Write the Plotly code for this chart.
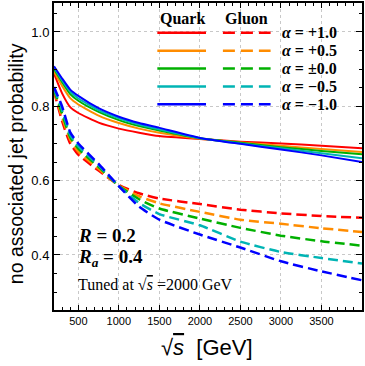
import plotly.graph_objects as go

# sqrt(s) in GeV
sqrt_s = [200, 300, 400, 500, 750, 1000, 1250, 1500, 2000, 2500, 3000, 3500, 4000]

alpha_labels = ["+1.0", "+0.5", "\u00b10.0", "\u22120.5", "\u22121.0"]
colors = ["#ff0000", "#ff8c00", "#00b000", "#00b4b4", "#0000ff"]

# quark (solid) curves, one per alpha
quark_p10 = [0.888, 0.835, 0.798, 0.782, 0.756, 0.740, 0.729, 0.720, 0.712, 0.705, 0.700, 0.694, 0.687]
quark_p05 = [0.893, 0.855, 0.822, 0.805, 0.775, 0.755, 0.740, 0.729, 0.713, 0.703, 0.694, 0.685, 0.677]
quark_p00 = [0.900, 0.865, 0.833, 0.815, 0.785, 0.763, 0.747, 0.735, 0.714, 0.702, 0.690, 0.680, 0.671]
quark_m05 = [0.905, 0.870, 0.840, 0.821, 0.790, 0.768, 0.751, 0.738, 0.714, 0.700, 0.687, 0.674, 0.660]
quark_m10 = [0.908, 0.875, 0.845, 0.828, 0.795, 0.772, 0.755, 0.742, 0.715, 0.699, 0.684, 0.668, 0.650]

# gluon (dashed) curves, one per alpha
gluon_p10 = [0.840, 0.760, 0.700, 0.670, 0.627, 0.588, 0.566, 0.552, 0.537, 0.522, 0.512, 0.505, 0.500]
gluon_p05 = [0.843, 0.770, 0.710, 0.678, 0.632, 0.587, 0.558, 0.539, 0.516, 0.495, 0.484, 0.472, 0.462]
gluon_p00 = [0.845, 0.780, 0.717, 0.686, 0.637, 0.586, 0.550, 0.525, 0.498, 0.473, 0.452, 0.437, 0.425]
gluon_m05 = [0.848, 0.790, 0.723, 0.693, 0.641, 0.585, 0.540, 0.510, 0.480, 0.436, 0.408, 0.392, 0.377]
gluon_m10 = [0.852, 0.800, 0.730, 0.700, 0.645, 0.585, 0.530, 0.495, 0.455, 0.420, 0.383, 0.356, 0.332]

quark = [quark_p10, quark_p05, quark_p00, quark_m05, quark_m10]
gluon = [gluon_p10, gluon_p05, gluon_p00, gluon_m05, gluon_m10]

fig = go.Figure()
for i in range(5):
    fig.add_trace(go.Scatter(x=sqrt_s, y=quark[i], mode="lines",
                             line=dict(color=colors[i], width=2, shape="spline", smoothing=0.5),
                             showlegend=False))
for i in range(5):
    fig.add_trace(go.Scatter(x=sqrt_s, y=gluon[i], mode="lines",
                             line=dict(color=colors[i], width=2.5, dash="10px,5px", shape="spline", smoothing=0.5),
                             showlegend=False))

# pixel helpers for the plot area (l=54, t=1, w=310, h=309)
def px(x): return (x - 54) / 310
def py(y): return (310 - y) / 309

serif = "Liberation Serif"
sans = "Liberation Sans"

def note(x, y, text, size, family, xanchor="center", angle=0):
    return dict(xref="paper", yref="paper", x=px(x), y=py(y), text=text, showarrow=False,
                xanchor=xanchor, yanchor="middle", textangle=angle,
                font=dict(family=family, size=size, color="black"))

# hand-made legend
ann = []
shapes = []
rows = [31, 49, 67, 85, 103]
for i, yy in enumerate(rows):
    shapes.append(dict(type="line", xref="paper", yref="paper", x0=px(158), x1=px(207), y0=py(yy), y1=py(yy),
                       line=dict(color=colors[i], width=2.5)))
    shapes.append(dict(type="line", xref="paper", yref="paper", x0=px(224), x1=px(272), y0=py(yy), y1=py(yy),
                       line=dict(color=colors[i], width=2.5, dash="12px,6px")))
    ann.append(note(281, yy, "<b><i>\u03b1</i> = " + alpha_labels[i] + "</b>", 16, serif, "left"))
ann.append(note(183, 17, "<b>Quark</b>", 16, serif))
ann.append(note(248, 17, "<b>Gluon</b>", 16, serif))

ann.append(note(76, 235, "<b><i>R</i> = 0.2</b>", 19, serif, "left"))
ann.append(note(76, 258, "<b><i>R<sub>a</sub></i> = 0.4</b>", 19, serif, "left"))
ann.append(note(76, 284, "Tuned at \u221a<span style='text-decoration:overline'><i>s</i></span> =2000 GeV",
                16, serif, "left"))

# axis titles
ann.append(note(16, 163, "no associated jet probability", 19.5, sans, angle=-90))
ann.append(note(208, 348, "\u221a<span style='text-decoration:overline'><i>s</i></span>  [GeV]", 22, sans))

fig.update_layout(
    width=365, height=366,
    margin=dict(l=54, r=1, t=1, b=56),
    plot_bgcolor="white", paper_bgcolor="white",
    annotations=ann, shapes=shapes,
    showlegend=False,
)
fig.update_xaxes(range=[200, 4000], tickvals=[500, 1000, 1500, 2000, 2500, 3000, 3500],
                 ticks="inside", ticklen=5, tickwidth=1, tickcolor="black",
                 minor=dict(dtick=100, tick0=0, ticks="inside", ticklen=3, tickcolor="black", showgrid=False),
                 showline=True, linecolor="black", linewidth=2, mirror="ticks",
                 showgrid=True, gridcolor="#c8c8c8", griddash="dot", gridwidth=1,
                 tickfont=dict(family=sans, size=11, color="black"), zeroline=False)
fig.update_yaxes(range=[0.252, 1.078], tickvals=[0.4, 0.6, 0.8, 1.0], ticktext=["0.4", "0.6", "0.8", "1.0"],
                 ticks="inside", ticklen=6, tickwidth=1, tickcolor="black",
                 minor=dict(dtick=0.05, tick0=0, ticks="inside", ticklen=3, tickcolor="black", showgrid=False),
                 showline=True, linecolor="black", linewidth=2, mirror="ticks",
                 showgrid=True, gridcolor="#c8c8c8", griddash="dot", gridwidth=1,
                 tickfont=dict(family=sans, size=13, color="black"), zeroline=False)

# the page's default body margin would shift the figure by 8px
fig.write_html("out.html", config={"displayModeBar": False},
               post_script="document.body.style.margin='0';")
